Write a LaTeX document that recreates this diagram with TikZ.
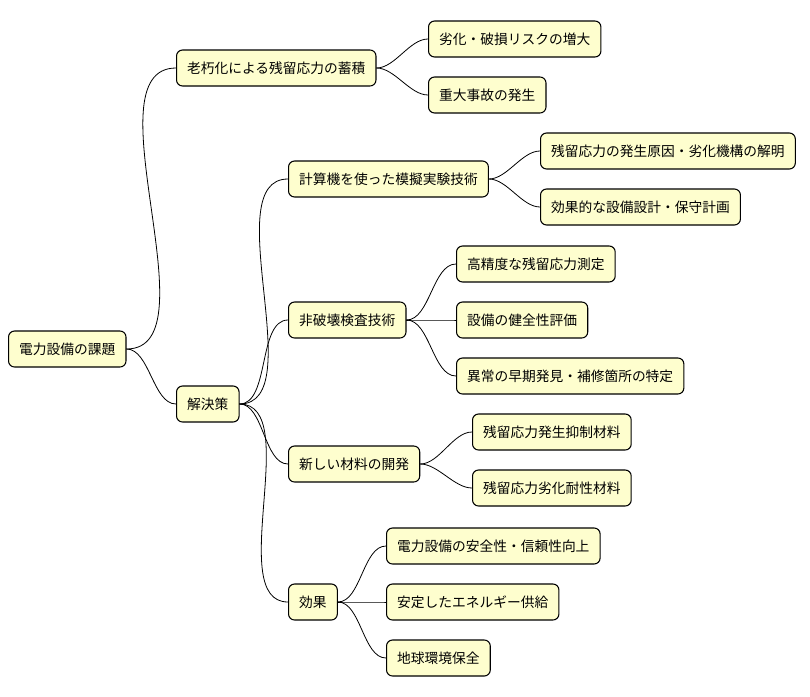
\documentclass[tikz,border=0pt]{standalone}
\usepackage{fontspec}
\newfontfamily\cjk{Noto Sans CJK JP}
\definecolor{ideafill}{HTML}{FEFECE}
\begin{document}
\begin{tikzpicture}[x=0.75pt,y=-0.75pt,line cap=round,line join=round,
  idea/.style={draw=black,line width=0.8pt,fill=ideafill,rounded corners=4.5pt,
    anchor=west,minimum height=27pt,inner xsep=8pt,font=\cjk\fontsize{10.3}{12}\selectfont},
  branch/.style={line width=0.6pt}]
\useasboundingbox (0,0) rectangle (810,696);

% root and first level
\node[idea] (root) at (8,349) {電力設備の課題};
\node[idea] (aging) at (176,68) {老朽化による残留応力の蓄積};
\node[idea] (sol) at (176,404) {解決策};

% consequences of aging
\node[idea] (risk) at (428,39) {劣化・破損リスクの増大};
\node[idea] (acc) at (428,95) {重大事故の発生};

% solutions
\node[idea] (sim) at (288,179) {計算機を使った模擬実験技術};
\node[idea] (ndt) at (288,320) {非破壊検査技術};
\node[idea] (mat) at (288,464) {新しい材料の開発};
\node[idea] (eff) at (288,602) {効果};

\node[idea] (cause) at (540,151) {残留応力の発生原因・劣化機構の解明};
\node[idea] (plan) at (540,207) {効果的な設備設計・保守計画};

\node[idea] (meas) at (456,264) {高精度な残留応力測定};
\node[idea] (health) at (456,320) {設備の健全性評価};
\node[idea] (early) at (456,376) {異常の早期発見・補修箇所の特定};

\node[idea] (supp) at (472,432) {残留応力発生抑制材料};
\node[idea] (resist) at (472,488) {残留応力劣化耐性材料};

\node[idea] (safe) at (386,546) {電力設備の安全性・信頼性向上};
\node[idea] (supply) at (386,602) {安定したエネルギー供給};
\node[idea] (env) at (386,658) {地球環境保全};

% connectors
\foreach \p/\c in {root/aging,root/sol,aging/risk,aging/acc,
  sol/sim,sol/ndt,sol/mat,sol/eff,sim/cause,sim/plan,
  ndt/meas,ndt/health,ndt/early,mat/supp,mat/resist,
  eff/safe,eff/supply,eff/env}
  \draw[branch] (\p.east) to[out=0,in=180,looseness=0.8] (\c.west);
\end{tikzpicture}
\end{document}
